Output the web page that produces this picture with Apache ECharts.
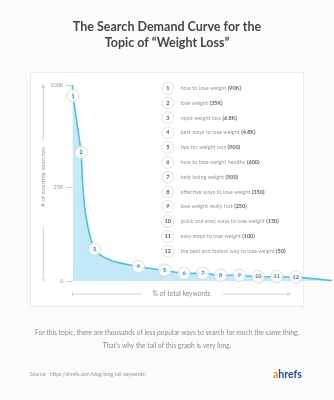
<!DOCTYPE html>
<html>
<head>
<meta charset="utf-8">
<script src="https://cdn.jsdelivr.net/npm/echarts@6/dist/echarts.min.js"></script>
<style>
html,body{margin:0;padding:0;background:#fbfbfb;}
#c{width:334px;height:400px;}
</style>
</head>
<body>
<div id="c"></div>
<script>
// Curve (x: % of total keywords, y: display height on the chart's axis, 0-100)
const curveX = [0, 0.2, 3.3, 3.9, 5.2, 8.5, 14.5, 25.4, 35.5, 43.0, 50.2, 57.1, 64.3, 71.6, 78.7, 86.0, 100];
const curveY = [100, 94.5, 65.6, 50, 32.8, 16.3, 10.7, 7.3, 5.5, 3.9, 3.9, 2.9, 2.9, 2.2, 2.2, 2.0, 0.2];
// indices of the curve points that carry the numbered keyword markers
const markerIdx = [1, 2, 5, 7, 8, 9, 10, 11, 12, 13, 14, 15];
// y-axis tick positions and labels
const yTickPos = [0, 48, 100];
const yTickLabels = ['0', '25K', '100K'];
// keywords and their monthly searches
const keywords = ['how to lose weight', 'lose weight', 'rapid weight loss', 'best ways to lose weight',
  'tips for weight loss', 'how to lose weight healthy', 'help losing weight', 'effective ways to lose weight',
  'lose weight really fast', 'quick and easy ways to lose weight', 'easy steps to lose weight',
  'the best and fastest way to lose weight'];
const volumes = ['90K', '35K', '6.8K', '4.8K', '900', '600', '500', '350', '250', '150', '100', '50'];

const FONT = 'Lato, "Open Sans", sans-serif';
const chart = echarts.init(document.getElementById('c'), null, {renderer: 'canvas'});

const curveData = curveX.map((x, i) => [x, curveY[i]]);
const markerData = markerIdx.map((k, i) => ({value: [curveX[k], curveY[k]], num: i + 1}));

const graphics = [];
// card
graphics.push({type: 'rect', z: -10, shape: {x: 30.5, y: 72.5, width: 273, height: 234},
  style: {fill: '#ffffff', stroke: '#ebebeb', lineWidth: 1}, silent: true});
// title
graphics.push({type: 'text', x: 167, y: 27, style: {text: 'The Search Demand Curve for the', font: 'bold 12.5px ' + FONT,
  fill: '#464646', align: 'center', verticalAlign: 'middle'}});
graphics.push({type: 'text', x: 167, y: 42.5, style: {text: 'Topic of \u201cWeight Loss\u201d', font: 'bold 12.5px ' + FONT,
  fill: '#464646', align: 'center', verticalAlign: 'middle'}});
// y axis name with arrow line
graphics.push({type: 'line', shape: {x1: 43.3, y1: 84, x2: 43.3, y2: 140}, style: {stroke: '#d6d6d6', lineWidth: 1.2}});
graphics.push({type: 'polygon', shape: {points: [[41.3, 88], [43.3, 83.5], [45.3, 88]]}, style: {fill: '#d6d6d6'}});
graphics.push({type: 'line', shape: {x1: 43.3, y1: 227, x2: 43.3, y2: 280}, style: {stroke: '#d6d6d6', lineWidth: 1.2}});
graphics.push({type: 'line', shape: {x1: 41.3, y1: 280, x2: 45.3, y2: 280}, style: {stroke: '#d6d6d6', lineWidth: 1}});
graphics.push({type: 'text', x: 43.3, y: 177, rotation: Math.PI / 2,
  style: {text: '# of monthly searches', font: '6.2px ' + FONT, fill: '#9a9a9a', align: 'center', verticalAlign: 'middle'}});
// x axis name with arrow line
graphics.push({type: 'line', shape: {x1: 72.5, y1: 294, x2: 142, y2: 294}, style: {stroke: '#d6d6d6', lineWidth: 1.2}});
graphics.push({type: 'line', shape: {x1: 72.5, y1: 292, x2: 72.5, y2: 296}, style: {stroke: '#d6d6d6', lineWidth: 1}});
graphics.push({type: 'text', x: 152.5, y: 294,
  style: {text: '% of total keywords', font: '6.7px ' + FONT, fill: '#8a8a8a', align: 'left', verticalAlign: 'middle'}});
graphics.push({type: 'line', shape: {x1: 222.5, y1: 294, x2: 290, y2: 294}, style: {stroke: '#d6d6d6', lineWidth: 1.2}});
graphics.push({type: 'polygon', shape: {points: [[287, 292], [291.5, 294], [287, 296]]}, style: {fill: '#d6d6d6'}});
// keyword list
keywords.forEach((kw, i) => {
  const cy = 88.3 + i * 14.8;
  graphics.push({type: 'circle', shape: {cx: 167.8, cy: cy, r: 6}, style: {fill: '#fff', stroke: '#e2e2e2', lineWidth: 1}});
  graphics.push({type: 'text', x: 167.8, y: cy, style: {text: String(i + 1), font: 'bold 5.5px ' + FONT, fill: '#555',
    align: 'center', verticalAlign: 'middle'}});
  graphics.push({type: 'text', x: 180.5, y: cy, style: {
    text: kw + ' {b|(' + volumes[i] + ')}', font: '5.5px ' + FONT, fill: '#9a9a9a', align: 'left', verticalAlign: 'middle',
    rich: {b: {font: 'bold 5.5px ' + FONT, fill: '#666'}}}});
});
// footer
graphics.push({type: 'text', x: 167, y: 333, style: {
  text: 'For this topic, there are thousands of less popular ways to search for much the same thing.',
  font: '6.7px ' + FONT, fill: '#8c8c8c', align: 'center', verticalAlign: 'middle'}});
graphics.push({type: 'text', x: 167, y: 345.5, style: {
  text: 'That\u2019s why the tail of this graph is very long.',
  font: '6.7px ' + FONT, fill: '#8c8c8c', align: 'center', verticalAlign: 'middle'}});
graphics.push({type: 'text', x: 30, y: 374, style: {
  text: 'Source:   https://ahrefs.com/blog/long-tail-keywords/',
  font: '5px ' + FONT, fill: '#9a9a9a', align: 'left', verticalAlign: 'middle'}});
graphics.push({type: 'text', x: 273, y: 375, style: {
  text: '{a|a}{h|hrefs}', font: 'bold 10.5px ' + FONT, align: 'left', verticalAlign: 'middle',
  rich: {a: {font: 'bold 10.5px ' + FONT, fill: '#f2891f'}, h: {font: 'bold 10.5px ' + FONT, fill: '#1d4f9e'}}}});

chart.setOption({
  backgroundColor: 'transparent',
  animation: false,
  grid: {left: 72.5, right: 2, top: 85, bottom: 119, containLabel: false},
  xAxis: {type: 'value', min: 0, max: 100, show: false},
  yAxis: {
    type: 'value', min: 0, max: 100,
    axisLine: {show: false},
    splitLine: {show: false},
    axisTick: {show: true, customValues: yTickPos, length: 6, lineStyle: {color: '#cfcfcf'}},
    axisLabel: {customValues: yTickPos, margin: 9, fontSize: 5.5, fontFamily: FONT, color: '#9a9a9a',
      formatter: v => yTickLabels[yTickPos.indexOf(v)]}
  },
  series: [
    {type: 'line', data: curveData, smooth: 0.3, symbol: 'none', z: 2,
      lineStyle: {color: '#55bfe2', width: 1.6},
      areaStyle: {color: '#c4e9f8', opacity: 1}},
    {type: 'scatter', data: markerData, symbol: 'circle', symbolSize: 12.5, z: 3, clip: false,
      itemStyle: {color: '#ffffff', borderColor: '#d2d2d2', borderWidth: 1},
      label: {show: true, position: 'inside', formatter: p => String(p.data.num),
        fontSize: 5.5, fontWeight: 'bold', fontFamily: FONT, color: '#555'}}
  ],
  graphics: undefined,
  graphic: graphics
});
</script>
</body>
</html>
